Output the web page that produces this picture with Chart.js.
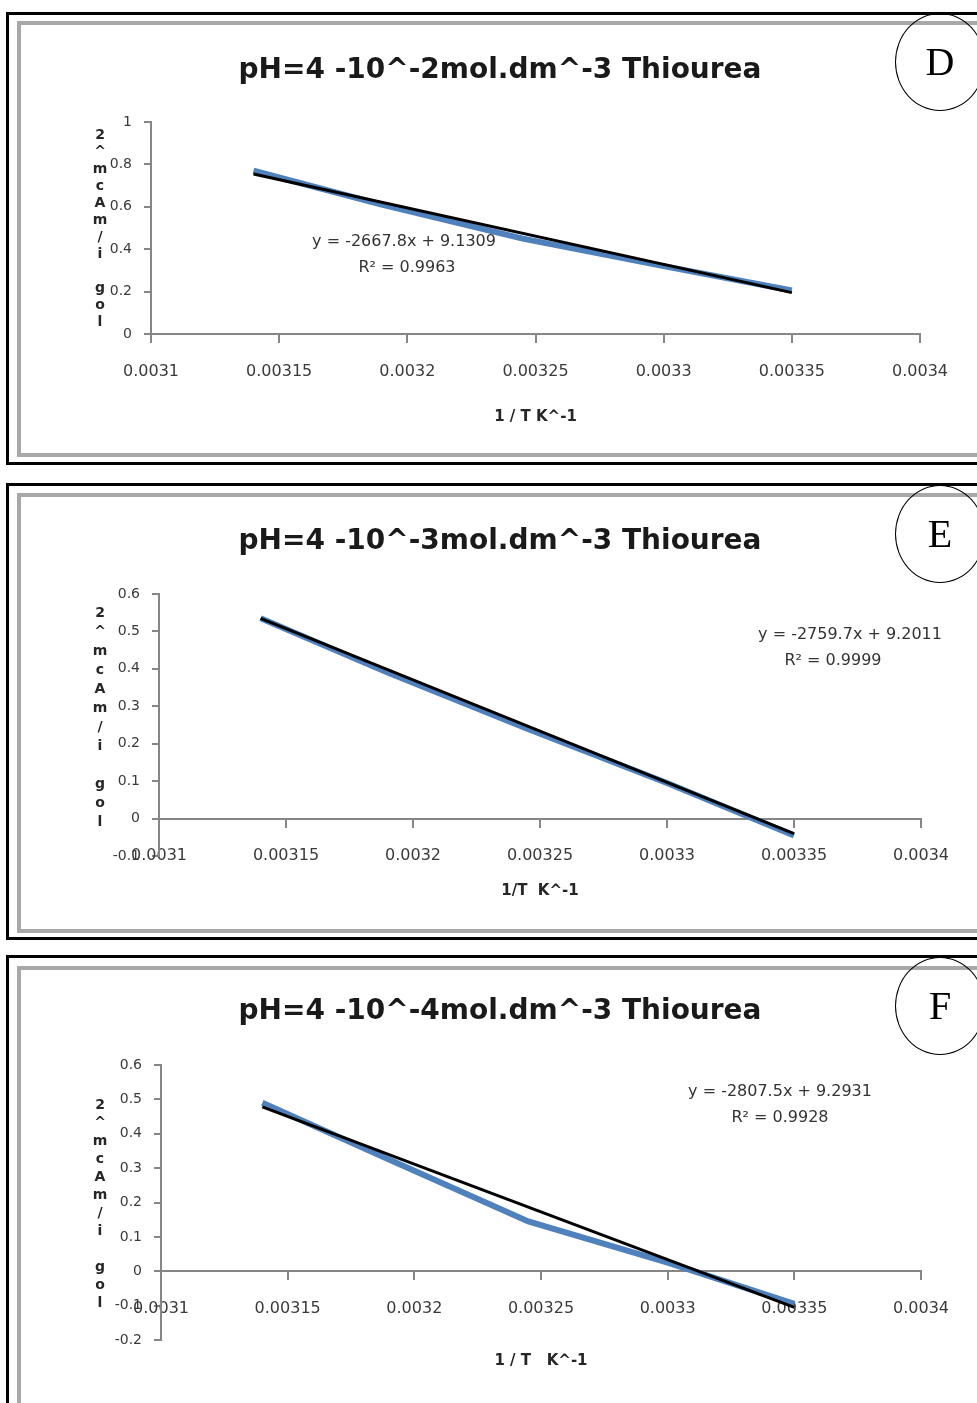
<!DOCTYPE html>
<html>
<head>
<meta charset="utf-8">
<script src="https://cdn.jsdelivr.net/npm/chart.js@4.4.1/dist/chart.umd.min.js"></script>
<style>
body{margin:0;background:#fff;width:977px;height:1403px;overflow:hidden;position:relative}
.outer{position:absolute;left:6px;width:1000px;border:3px solid #000}
.inner{position:absolute;left:17px;width:1000px;border:4px solid #a8a8a8}
canvas{position:absolute;left:0}
.badge{position:absolute;left:895px;width:88px;height:96px;border:1.5px solid #000;border-radius:50%;
  font:40px "Liberation Serif";text-align:center;line-height:96px;color:#000}
</style>
</head>
<body>
<div class="outer" style="top:12px;height:447px"></div>
<div class="inner" style="top:21px;height:428px"></div>
<div class="outer" style="top:483px;height:451px"></div>
<div class="inner" style="top:493px;height:432px"></div>
<div class="outer" style="top:955px;height:460px"></div>
<div class="inner" style="top:966px;height:460px"></div>

<canvas id="chartD" width="977" height="460" style="top:0"></canvas>
<canvas id="chartE" width="977" height="460" style="top:471px"></canvas>
<canvas id="chartF" width="977" height="460" style="top:943px"></canvas>

<div class="badge" style="top:13px">D</div>
<div class="badge" style="top:485px">E</div>
<div class="badge" style="top:957px">F</div>

<script>
// x axis: 1/T (K^-1)
var xTicks = [0.0031, 0.00315, 0.0032, 0.00325, 0.0033, 0.00335, 0.0034];
var xTickLabels = ["0.0031", "0.00315", "0.0032", "0.00325", "0.0033", "0.00335", "0.0034"];
var invT = [0.00314, 0.00319, 0.003245, 0.0033, 0.00335];
var yTitle = "log i/mAcm^2";

// D: 10^-2 mol.dm^-3
var logD = [0.77, 0.61, 0.45, 0.32, 0.205];
var trendD = [0.755, 0.195];
var yTicksD = [0, 0.2, 0.4, 0.6, 0.8, 1];
var yLabelsD = ["0", "0.2", "0.4", "0.6", "0.8", "1"];

// E: 10^-3 mol.dm^-3
var logE = [0.535, 0.39, 0.24, 0.095, -0.045];
var trendE = [0.535, -0.04];
var yTicksE = [-0.1, 0, 0.1, 0.2, 0.3, 0.4, 0.5, 0.6];
var yLabelsE = ["-0.1", "0", "0.1", "0.2", "0.3", "0.4", "0.5", "0.6"];

// F: 10^-4 mol.dm^-3
var logF = [0.49, 0.325, 0.145, 0.025, -0.095];
var trendF = [0.478, -0.105];
var yTicksF = [-0.2, -0.1, 0, 0.1, 0.2, 0.3, 0.4, 0.5, 0.6];
var yLabelsF = ["-0.2", "-0.1", "0", "0.1", "0.2", "0.3", "0.4", "0.5", "0.6"];

var axisGrey = "#868686";
var textGrey = "#3a3a3a";

function draw(id, o) {
  var extras = {
    id: "extras",
    afterDraw: function (chart) {
      var ctx = chart.ctx, area = chart.chartArea;
      ctx.save();
      ctx.fillStyle = "#262626";
      ctx.textAlign = "center";
      ctx.textBaseline = "middle";
      // x axis title
      ctx.font = 'bold 15px "DejaVu Sans"';
      ctx.fillText(o.xTitle, (area.left + area.right) / 2, o.xTitleY);
      // stacked y axis title
      ctx.font = 'bold 14px "DejaVu Sans"';
      var chars = yTitle.split("").reverse();
      chars.forEach(function (c, i) {
        ctx.fillText(c, 100, o.yTitleTop + i * o.yTitleStep);
      });
      // trendline label
      ctx.fillStyle = "#333";
      ctx.font = '16px "DejaVu Sans"';
      ctx.fillText(o.eq, o.eqPos[0], o.eqPos[1]);
      ctx.fillText(o.r2, o.eqPos[2], o.eqPos[1] + 26);
      ctx.restore();
    }
  };

  new Chart(document.getElementById(id), {
    type: "scatter",
    data: {
      datasets: [{
        data: invT.map(function (x, i) { return {x: x, y: o.vals[i]}; }),
        showLine: true,
        borderColor: "#4f81bd",
        borderWidth: 6,
        pointRadius: 0,
        order: 1
      }, {
        data: [{x: invT[0], y: o.trend[0]}, {x: invT[invT.length - 1], y: o.trend[1]}],
        showLine: true,
        borderColor: "#000",
        borderWidth: 3,
        pointRadius: 0,
        order: 0
      }]
    },
    options: {
      responsive: false,
      animation: false,
      layout: {padding: {left: o.padL, right: o.padR, top: 0, bottom: o.padB}},
      plugins: {
        legend: {display: false},
        tooltip: {enabled: false},
        title: {
          display: true,
          text: o.title,
          color: "#1a1a1a",
          font: {family: "DejaVu Sans", weight: "bold", size: 28, lineHeight: 1.2},
          padding: {top: o.titleTop, bottom: o.titleGap}
        }
      },
      scales: {
        x: {
          type: "linear",
          position: {y: 0},
          min: xTicks[0],
          max: xTicks[xTicks.length - 1],
          afterBuildTicks: function (s) { s.ticks = xTicks.map(function (v) { return {value: v}; }); },
          ticks: {
            callback: function (v, i) { return xTickLabels[i]; },
            autoSkip: false, maxRotation: 0, padding: 20,
            color: textGrey, font: {family: "DejaVu Sans", size: 16}
          },
          grid: {drawOnChartArea: false, tickLength: 8, color: axisGrey, lineWidth: 2},
          border: {color: axisGrey, width: 2}
        },
        y: {
          min: o.yTicks[0],
          max: o.yTicks[o.yTicks.length - 1],
          afterFit: function (s) { s.width = o.yW; },
          afterBuildTicks: function (s) { s.ticks = o.yTicks.map(function (v) { return {value: v}; }); },
          ticks: {
            callback: function (v, i) { return o.yLabels[i]; },
            autoSkip: false, padding: 12,
            color: textGrey, font: {family: "DejaVu Sans", size: 14}
          },
          grid: {drawOnChartArea: false, tickLength: 7, color: axisGrey, lineWidth: 2},
          border: {color: axisGrey, width: 2}
        }
      }
    },
    plugins: [extras]
  });
}

draw("chartD", {
  title: "pH=4 -10^-2mol.dm^-3 Thiourea",
  vals: logD, trend: trendD, yTicks: yTicksD, yLabels: yLabelsD,
  padL: 80, padR: 57, padB: 126, yW: 71, titleTop: 54, titleGap: 34.4,
  xTitle: "1 / T K^-1", xTitleY: 417,
  yTitleTop: 135, yTitleStep: 17,
  eq: "y = -2667.8x + 9.1309", r2: "R\u00b2 = 0.9963", eqPos: [404, 242, 407]
});

draw("chartE", {
  title: "pH=4 -10^-3mol.dm^-3 Thiourea",
  vals: logE, trend: trendE, yTicks: yTicksE, yLabels: yLabelsE,
  padL: 79, padR: 56, padB: 75, yW: 80, titleTop: 54, titleGap: 35.4,
  xTitle: "1/T  K^-1", xTitleY: 420,
  yTitleTop: 142, yTitleStep: 19,
  eq: "y = -2759.7x + 9.2011", r2: "R\u00b2 = 0.9999", eqPos: [850, 164, 833]
});

draw("chartF", {
  title: "pH=4 -10^-4mol.dm^-3 Thiourea",
  vals: logF, trend: trendF, yTicks: yTicksF, yLabels: yLabelsF,
  padL: 79, padR: 56, padB: 63, yW: 82, titleTop: 52, titleGap: 36.4,
  xTitle: "1 / T   K^-1", xTitleY: 418,
  yTitleTop: 162, yTitleStep: 18,
  eq: "y = -2807.5x + 9.2931", r2: "R\u00b2 = 0.9928", eqPos: [780, 149, 780]
});
</script>
</body>
</html>
